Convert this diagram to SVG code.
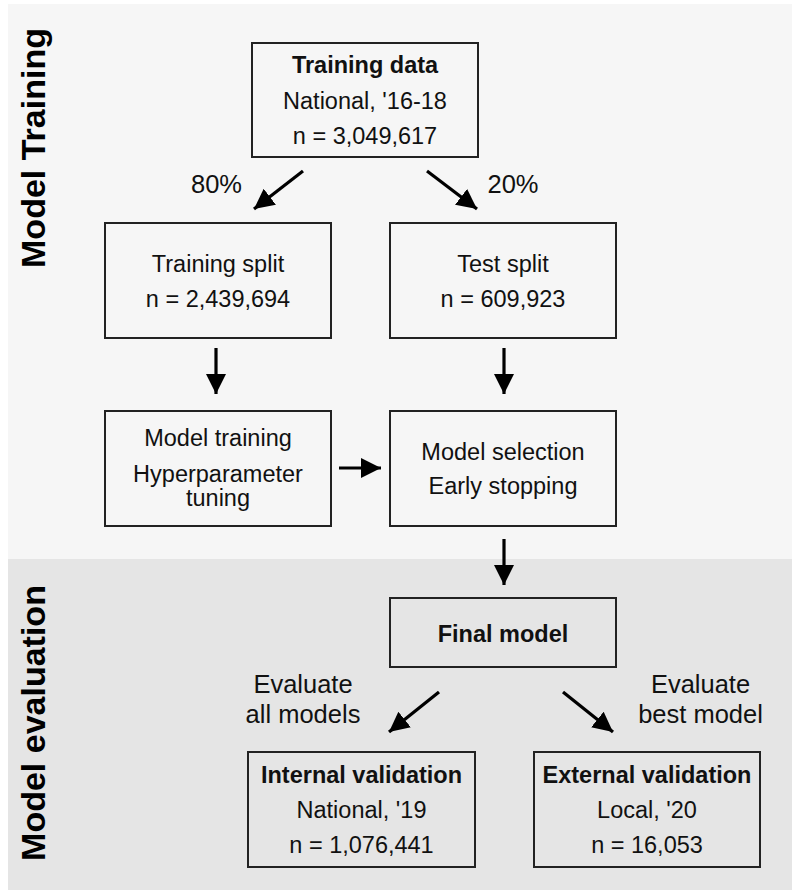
<svg xmlns="http://www.w3.org/2000/svg" width="792" height="890" viewBox="0 0 792 890">
<style>
.box{fill:none;stroke:#222;stroke-width:2}
.t{font-family:"Liberation Sans",Arial,sans-serif;font-size:23.5px;fill:#111;text-anchor:middle}
.b{font-weight:bold}
.lbl{font-family:"Liberation Sans",Arial,sans-serif;font-size:25.5px;fill:#111;text-anchor:middle}
.side{font-family:"Liberation Sans",Arial,sans-serif;font-size:34px;font-weight:bold;fill:#000;text-anchor:middle}
.c{stroke:#000;stroke-width:3.2;fill:none;marker-end:url(#ah)}
</style>
<defs>
<marker id="ah" markerUnits="userSpaceOnUse" markerWidth="22" markerHeight="22" refX="20" refY="10" orient="auto">
<path d="M0,0 L20,10 L0,20 Z" fill="#000"/>
</marker>
</defs>
<rect x="0" y="0" width="792" height="890" fill="#ffffff"/>
<rect x="8" y="4" width="784" height="555" fill="#f6f6f6"/>
<rect x="8" y="559" width="784" height="331" fill="#e5e5e5"/>
<text class="side" transform="translate(45,148) rotate(-90)">Model Training</text>
<text class="side" transform="translate(45,723) rotate(-90)">Model evaluation</text>
<g id="connectors">
<line class="c" x1="303" y1="171" x2="254" y2="209"/>
<line class="c" x1="427" y1="171" x2="477" y2="209"/>
<line class="c" x1="216" y1="348" x2="216" y2="394"/>
<line class="c" x1="504" y1="348" x2="504" y2="394"/>
<line class="c" x1="339" y1="468" x2="381" y2="468"/>
<line class="c" x1="504" y1="539" x2="504" y2="585"/>
<line class="c" x1="439" y1="692" x2="389" y2="732"/>
<line class="c" x1="563" y1="692" x2="613" y2="732"/>
<text class="lbl" x="216.5" y="193">80%</text>
<text class="lbl" x="513" y="193">20%</text>
<text class="lbl" x="303" y="693">Evaluate</text>
<text class="lbl" x="303" y="723">all models</text>
<text class="lbl" x="700.5" y="693">Evaluate</text>
<text class="lbl" x="700.5" y="723">best model</text>
</g>
<g id="training-data">
<rect class="box" x="252" y="43" width="226" height="114"/>
<text class="t b" x="365" y="73">Training data</text>
<text class="t" x="365" y="109">National, '16-18</text>
<text class="t" x="365" y="144">n = 3,049,617</text>
</g>
<g id="training-split">
<rect class="box" x="105" y="223" width="226" height="115"/>
<text class="t" x="218" y="272">Training split</text>
<text class="t" x="218" y="307">n = 2,439,694</text>
</g>
<g id="test-split">
<rect class="box" x="390" y="223" width="226" height="115"/>
<text class="t" x="503" y="272">Test split</text>
<text class="t" x="503" y="307">n = 609,923</text>
</g>
<g id="model-training">
<rect class="box" x="105" y="411" width="226" height="115"/>
<text class="t" x="218" y="446">Model training</text>
<text class="t" x="218" y="482">Hyperparameter</text>
<text class="t" x="218" y="506">tuning</text>
</g>
<g id="model-selection">
<rect class="box" x="390" y="411" width="226" height="115"/>
<text class="t" x="503" y="460">Model selection</text>
<text class="t" x="503" y="494">Early stopping</text>
</g>
<g id="final-model">
<rect class="box" x="390" y="598" width="226" height="69"/>
<text class="t b" x="503" y="642">Final model</text>
</g>
<g id="internal-validation">
<rect class="box" x="248" y="752" width="227" height="115"/>
<text class="t b" x="361.5" y="783">Internal validation</text>
<text class="t" x="361.5" y="818">National, '19</text>
<text class="t" x="361.5" y="853">n = 1,076,441</text>
</g>
<g id="external-validation">
<rect class="box" x="534" y="752" width="226" height="115"/>
<text class="t b" x="647" y="783">External validation</text>
<text class="t" x="647" y="818">Local, '20</text>
<text class="t" x="647" y="853">n = 16,053</text>
</g>
</svg>
